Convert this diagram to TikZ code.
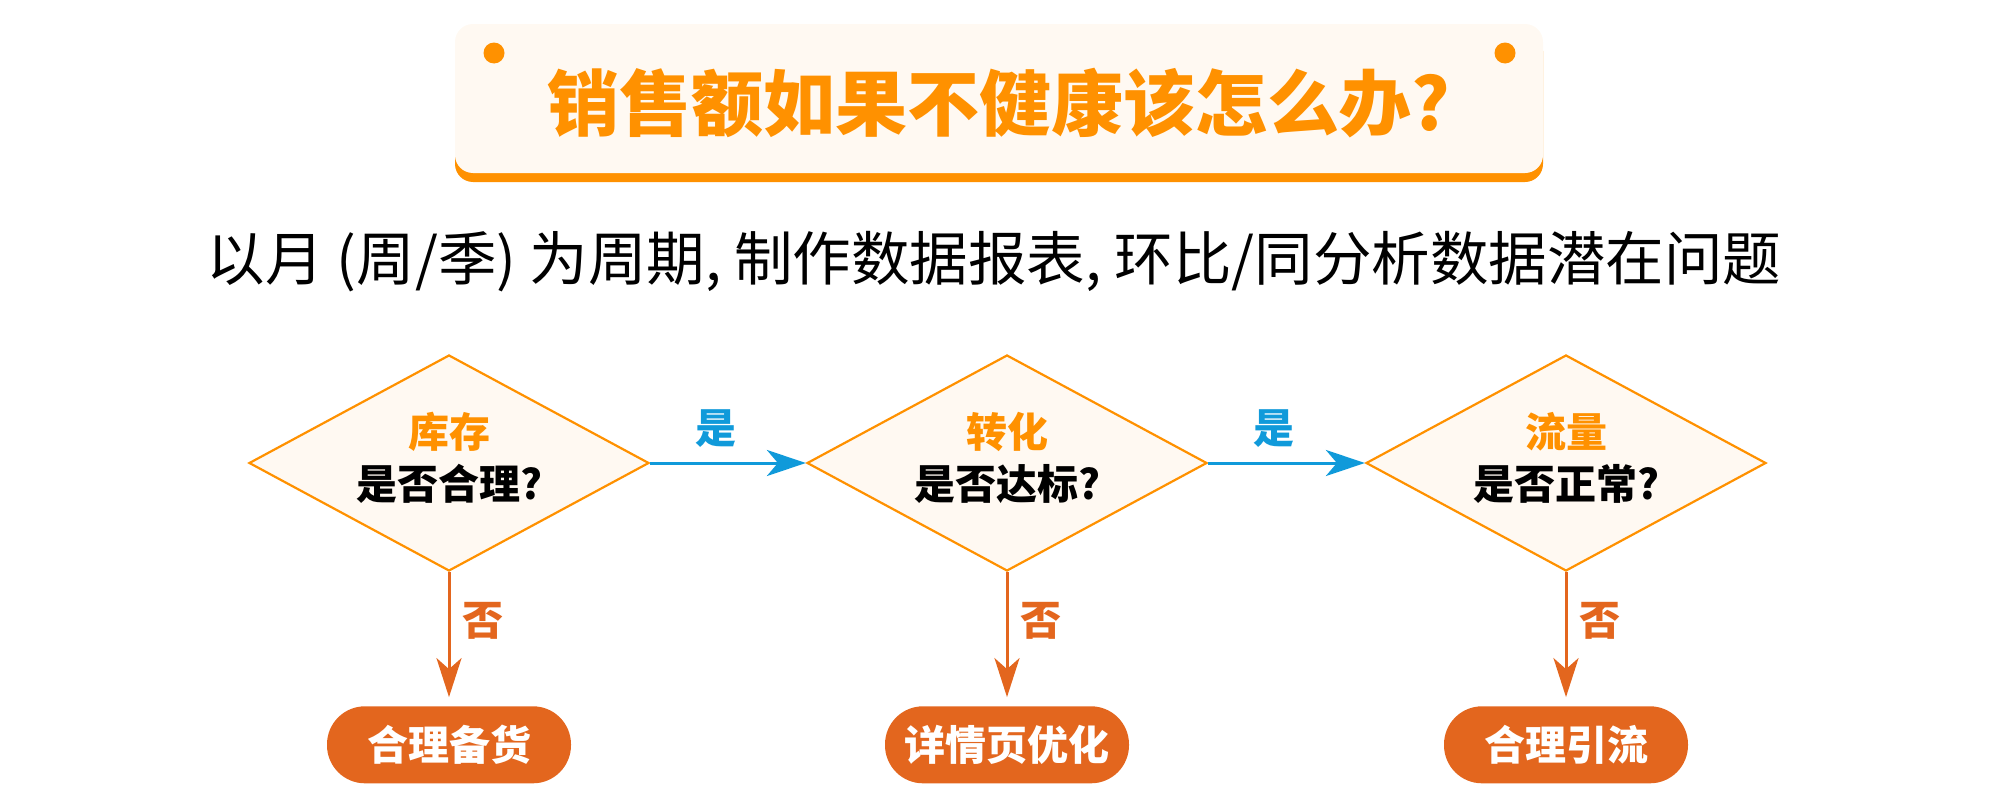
\documentclass[tikz,border=0pt]{standalone}
\usepackage{fontspec}
\setmainfont{Noto Sans CJK SC}
\usetikzlibrary{positioning,shapes.geometric,arrows.meta,shadows}

\definecolor{titleorange}{RGB}{255,145,0}
\definecolor{boxcream}{RGB}{255,249,242}
\definecolor{pillorange}{RGB}{227,102,30}
\definecolor{yesblue}{RGB}{16,154,218}

\tikzset{
  question/.style={diamond, draw=titleorange, line width=2.2pt, fill=boxcream,
    minimum width=400pt, minimum height=216pt, aspect=1.85, inner sep=0pt,
    align=center, text depth=15pt, font=\fontsize{41}{52}\selectfont\bfseries},
  answer/.style={rectangle, rounded corners=38pt, fill=pillorange, text=white,
    minimum width=244pt, minimum height=77pt, inner sep=0pt,
    font=\fontsize{41}{50}\selectfont\bfseries},
  yesarrow/.style={draw=yesblue, line width=3pt, -{Stealth[length=39pt,width=26pt,inset=11pt]}},
  noarrow/.style={draw=pillorange, line width=3pt, -{Stealth[length=39pt,width=25pt,inset=11pt]}, shorten >=9pt},
  yeslabel/.style={text=yesblue, inner sep=0pt, font=\fontsize{41}{50}\selectfont\bfseries},
  nolabel/.style={text=pillorange, inner sep=0pt, font=\fontsize{41}{50}\selectfont\bfseries}
}

\begin{document}
\begin{tikzpicture}[x=1pt,y=-1pt]
\useasboundingbox (0,0) rectangle (2000,803);

% title
\node [rectangle, rounded corners=18pt, fill=boxcream, minimum width=1088pt, minimum height=149pt,
       drop shadow={shadow xshift=0pt, shadow yshift=-9pt, fill=titleorange, opacity=1}]
       (titlebox) at (999,98.5) {};
\fill[titleorange] (494,53) circle (10.5pt);
\fill[titleorange] (1505,53) circle (10.5pt);
\node [text=titleorange, font=\fontsize{72}{80}\selectfont\bfseries] (title) at (999,103) {销售额如果不健康该怎么办?};

\node [font=\fontsize{58.5}{64}\selectfont] (subtitle) at (994,262) {以月 (周/季) 为周期, 制作数据报表, 环比/同分析数据潜在问题};

% decisions
\node [question] (stock) at (449,463) {\textcolor{titleorange}{库存}\\是否合理?};
\node [question] (convert) at (1007,463) {\textcolor{titleorange}{转化}\\是否达标?};
\node [question] (traffic) at (1566,463) {\textcolor{titleorange}{流量}\\是否正常?};

\node [answer, below=134pt of stock] (stockup) {合理备货};
\node [answer, below=134pt of convert] (detail) {详情页优化};
\node [answer, below=134pt of traffic] (guide) {合理引流};

\draw [yesarrow] (stock.east) -- (convert.west) node [pos=0.42, above=14pt, yeslabel] (yes1) {是};
\draw [yesarrow] (convert.east) -- (traffic.west) node [pos=0.42, above=14pt, yeslabel] (yes2) {是};

\draw [noarrow] (stock.south) -- (stockup.north) node [pos=0.36, right=12pt, nolabel] (no1) {否};
\draw [noarrow] (convert.south) -- (detail.north) node [pos=0.36, right=12pt, nolabel] (no2) {否};
\draw [noarrow] (traffic.south) -- (guide.north) node [pos=0.36, right=12pt, nolabel] (no3) {否};

\end{tikzpicture}
\end{document}
